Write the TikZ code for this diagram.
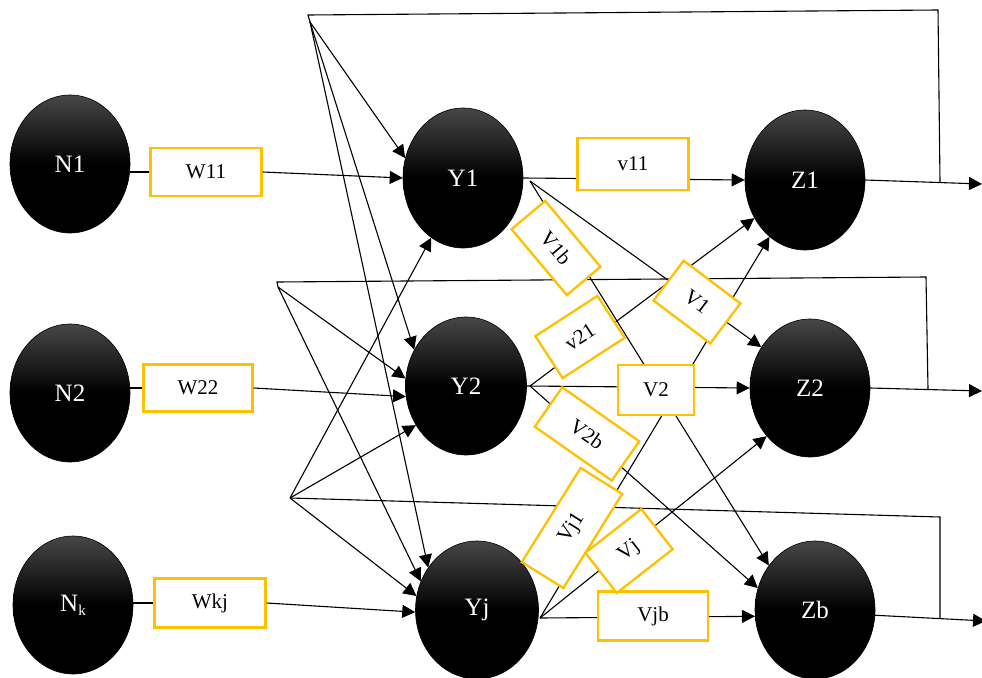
\documentclass[tikz,border=0pt]{standalone}
\usepackage{fontspec}
\setmainfont{Liberation Serif}
\usetikzlibrary{shapes.geometric,arrows.meta}
\definecolor{boxc}{HTML}{FFC000}
\begin{document}
\begin{tikzpicture}[x=1pt,y=-1pt,
  neuron/.style={ellipse, draw=black, line width=0.6pt, top color=black!72, bottom color=black, middle color=black,
    minimum width=120pt, minimum height=138pt, inner sep=0pt, text=white, font=\fontsize{25}{25}\selectfont},
  wbox/.style={rectangle, draw=boxc, line width=2.3pt, fill=white, inner sep=0pt, font=\fontsize{21}{21}\selectfont},
  conn/.style={line width=1.1pt},
  arr/.style={conn, -{Triangle[length=13pt,width=13pt]}},
]
\useasboundingbox (0,0) rectangle (982,677);

% neurons
\node[neuron] (N1) at (70,164) {N1};
\node[neuron] (N2) at (70,393) {N2};
\node[neuron] (Nk) at (73,605) {N\raisebox{-4pt}{\fontsize{15}{15}\selectfont k}};
\node[neuron, minimum height=140pt] (Y1) at (463,178) {Y1};
\node[neuron, minimum width=121pt] (Y2) at (466,386) {Y2};
\node[neuron, minimum width=123pt] (Yj) at (477,610) {Yj};
\node[neuron, minimum height=140pt] (Z1) at (805,180) {Z1};
\node[neuron] (Z2) at (810,388) {Z2};
\node[neuron] (Zb) at (815,610) {Zb};

% coordinates
\coordinate (T1) at (310,22);
\coordinate (T1a) at (308,15);
\coordinate (T2) at (278,287);
\coordinate (T2a) at (277,282);
\coordinate (T3) at (290,498);
\coordinate (B1) at (938,10);
\coordinate (B2) at (926,277);
\coordinate (B3) at (940,517);
\coordinate (J1) at (940,182);
\coordinate (J2) at (928,389);
\coordinate (J3) at (940,619);
\coordinate (O1) at (982,184);
\coordinate (O2) at (982,391);
\coordinate (O3) at (986,621);
\coordinate (Y1o) at (530,181);
\coordinate (Y2o) at (530,386);
\coordinate (Yjo) at (540,618);

% weight boxes (positions)
\node[wbox, minimum width=111pt, minimum height=48pt] (W11) at (206,172) {W11};
\node[wbox, minimum width=109pt, minimum height=47pt] (W22) at (198,388) {W22};
\node[wbox, minimum width=111pt, minimum height=49pt] (Wkj) at (210,603) {Wkj};

% bias lines
\draw[conn] (T1) -- (T1a) -- (B1) -- (J1);
\draw[conn] (T2) -- (T2a) -- (B2) -- (J2);
\draw[conn] (T3) -- (B3) -- (J3);

% fan lines into hidden layer
\draw[arr] (T1) -- (Y1.161);
\draw[arr] (T1) -- (Y2.145);
\draw[arr] (T1) -- (Yj.139);
\draw[arr] (T2) -- (Y2.173);
\draw[arr] (T2) -- (Yj.153);
\draw[arr] (T3) -- (Y1.242);
\draw[arr] (T3) -- (Y2.218);
\draw[arr] (T3) -- (Yj.167);

% inputs
\draw[conn] (N1.east |- W11.west) -- (W11.west);
\draw[arr] (W11.east) -- (Y1.west);
\draw[conn] (N2.east |- W22.west) -- (W22.west);
\draw[arr] (W22.east) -- (Y2.190);
\draw[conn] (Nk.east |- Wkj.west) -- (Wkj.west);
\draw[arr] (Wkj.east) -- (Yj.182);

% hidden to output
\draw[arr] (Y1.east) -- (Z1.west);
\draw[arr] (Y1o) -- (Zb.136);
\draw[arr] (Y1o) -- (Z2.140);
\draw[arr] (Y2.east) -- (Z2.west);
\draw[arr] (Y2o) -- (Z1.217);
\draw[arr] (Y2o) -- (Zb.159);
\draw[arr] (Yjo) -- (Zb.186);
\draw[arr] (Yjo) -- (Z1.238);
\draw[arr] (Yjo) -- (Z2.228);

% outputs
\draw[arr] (Z1.east) -- (O1);
\draw[arr] (Z2.east) -- (O2);
\draw[arr] (Zb.355) -- (O3);

% label boxes on top
\node[wbox, minimum width=111pt, minimum height=52pt] (v11) at (633,164) {v11};
\node[wbox, minimum width=76pt, minimum height=50pt] (V2) at (656,390) {V2};
\node[wbox, minimum width=110pt, minimum height=49pt] (Vjb) at (653,616) {Vjb};
\node[wbox, minimum width=86pt, minimum height=44pt, rotate=-50] (V1b) at (556,248) {V1b};
\node[wbox, minimum width=71pt, minimum height=50pt, rotate=-37] (V1) at (697,302) {V1};
\node[wbox, minimum width=74pt, minimum height=50pt, rotate=33] (v21) at (580,337) {v21};
\node[wbox, minimum width=94pt, minimum height=48pt, rotate=-35] (V2b) at (587,434) {V2b};
\node[wbox, minimum width=111pt, minimum height=49pt, rotate=58] (Vj1) at (572,528) {Vj1};
\node[wbox, minimum width=71pt, minimum height=51pt, rotate=38] (Vj) at (629,551) {Vj};
\end{tikzpicture}
\end{document}
